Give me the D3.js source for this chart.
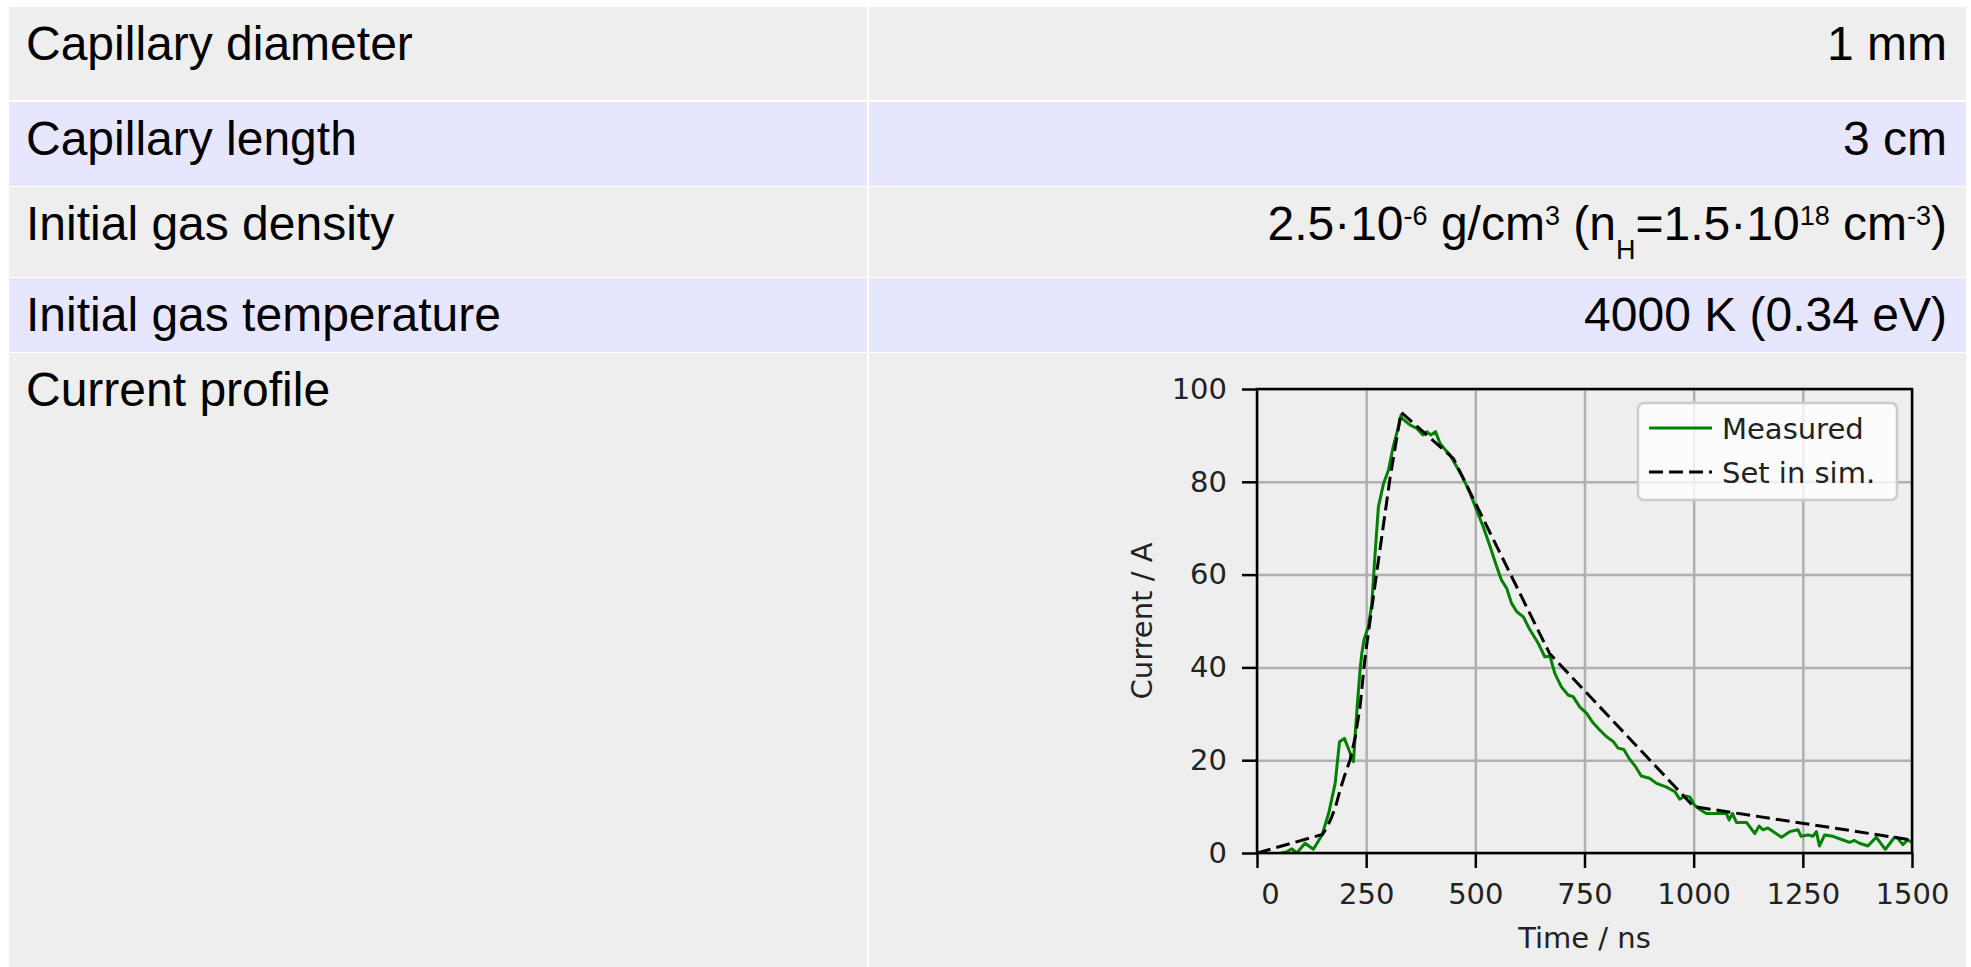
<!DOCTYPE html>
<html>
<head>
<meta charset="utf-8">
<script src="https://cdn.jsdelivr.net/npm/d3@7"></script>
<style>
body { margin: 0; background: #fff; }
</style>
</head>
<body>
<div id="a"></div>
<script>
// table contents
var rowLabels = ["Capillary diameter", "Capillary length", "Initial gas density", "Initial gas temperature", "Current profile"]
// value cells; pieces are [text, kind] where kind is n(ormal), sup or sub
var rowValues = [
	[["1 mm", "n"]],
	[["3 cm", "n"]],
	[["2.5·10", "n"], ["-6", "sup"], [" g/cm", "n"], ["3", "sup"], [" (n", "n"], ["H", "sub"], ["=1.5·10", "n"], ["18", "sup"], [" cm", "n"], ["-3", "sup"], [")", "n"]],
	[["4000 K (0.34 eV)", "n"]],
	[]
]

// current profile
var measuredTime = [55, 69, 80, 91, 110, 129, 149, 164, 179, 189, 200, 209, 221, 225, 230, 236, 240, 245, 255, 263, 270, 278, 290, 301, 312, 324, 330, 332, 351, 366, 380, 389, 398, 409, 419, 431, 442, 457, 472, 488, 503, 518, 534, 549, 560, 572, 583, 595, 610, 625, 644, 659, 671, 682, 697, 713, 724, 739, 755, 770, 785, 800, 816, 827, 840, 852, 867, 880, 899, 915, 938, 957, 968, 980, 991, 1002, 1014, 1029, 1060, 1075, 1081, 1089, 1098, 1121, 1140, 1150, 1159, 1170, 1201, 1220, 1239, 1246, 1262, 1273, 1281, 1288, 1300, 1319, 1342, 1357, 1368, 1380, 1399, 1418, 1439, 1460, 1467, 1479, 1490, 1500]
var measuredCurrent = [0, 0.3, 0.9, 0, 2.1, 0.8, 3.9, 8.5, 15, 24, 24.7, 22.6, 19.7, 25.8, 32.3, 39.4, 43, 45.9, 48.8, 53.8, 63.9, 74.6, 79.7, 82.5, 87.6, 91.9, 94.4, 93.7, 92.2, 91.5, 90.1, 90.8, 90.1, 90.8, 88.3, 86.9, 85.8, 83.3, 80.8, 77.5, 73.9, 70.3, 66, 61.7, 58.8, 57, 53.8, 52, 50.9, 48.1, 45.2, 42.3, 42.4, 38.7, 35.8, 34, 33.7, 31.5, 30.1, 28, 26.5, 25.1, 24, 22.6, 22.3, 20.4, 18.6, 16.6, 16.1, 15, 14.2, 13.2, 11.6, 12.3, 12.1, 10.3, 9.4, 8.5, 8.5, 8.5, 7.1, 8.5, 6.6, 6.6, 4.2, 5.8, 5.0, 5.4, 3.4, 4.6, 5.0, 3.6, 3.9, 3.6, 4.6, 1.5, 3.9, 3.6, 2.8, 2.3, 2.7, 2.1, 1.5, 3.4, 0.8, 3.4, 3.2, 1.8, 2.8, 2.3]
var simTime = [0, 150, 160, 170, 180, 190, 200, 213, 225, 236, 245, 250, 275, 305, 330, 450, 670, 1000, 1500]
var simCurrent = [0, 4, 5.5, 7.5, 10, 13.5, 16.5, 20, 25, 31.5, 40, 44, 61, 81, 95, 85, 43, 10, 2.8]
var xTicks = [0, 250, 500, 750, 1000, 1250, 1500]
var yTicks = [0, 20, 40, 60, 80, 100]
var legendNames = ["Measured", "Set in sim."]

var W = 1971, H = 967
svg = d3.select("#a").append("svg")
	.attr("width", W)
	.attr("height", H)

// ---- table ----
var rowTops = [7, 102, 187, 278, 353]
var rowBottoms = [100, 186, 277, 352, 967]
var rowFill = ["#eeeeee", "#e6e6ff"]
var tableLeft = 9, colSplit = 868, tableRight = 1966
var tableFont = "'Liberation Sans', Arial, sans-serif"

var rows = svg.selectAll("g.row")
	.data(rowLabels)
	.enter()
	.append("g")
	.attr("class", "row")
	.attr("transform", function(d, i){ return "translate(0," + rowTops[i] + ")" })

rows.append("rect")
	.attr("x", tableLeft)
	.attr("width", colSplit - tableLeft - 1)
	.attr("height", function(d, i){ return rowBottoms[i] - rowTops[i] })
	.attr("fill", function(d, i){ return rowFill[i % 2] })
rows.append("rect")
	.attr("x", colSplit + 1)
	.attr("width", tableRight - colSplit - 1)
	.attr("height", function(d, i){ return rowBottoms[i] - rowTops[i] })
	.attr("fill", function(d, i){ return rowFill[i % 2] })

rows.append("text")
	.attr("x", 26)
	.attr("y", 53)
	.style("font-family", tableFont)
	.style("font-size", "48px")
	.attr("fill", "#000")
	.text(function(d){ return d })

var valueText = rows.append("text")
	.attr("x", 1947)
	.attr("y", 53)
	.attr("text-anchor", "end")
	.style("font-family", tableFont)
	.style("font-size", "48px")
	.attr("fill", "#000")

valueText.each(function(d, i){
	var t = d3.select(this)
	rowValues[i].forEach(function(p){
		var s = t.append("tspan").text(p[0])
		if (p[1] == "sup") s.style("font-size", "27px").attr("baseline-shift", "15px")
		if (p[1] == "sub") s.style("font-size", "27px").attr("baseline-shift", "-19px")
	})
})

// ---- chart ----
var x = d3.scaleLinear().domain([0, 1500]).range([1257, 1912])
var y = d3.scaleLinear().domain([0, 100]).range([853, 389])
var chartFont = "'DejaVu Sans', sans-serif"

var clip = svg.append("clipPath").attr("id", "plotclip")
	.append("rect")
	.attr("x", x(0)).attr("y", y(100))
	.attr("width", x(1500) - x(0)).attr("height", y(0) - y(100))

// grid
svg.append("g")
	.attr("transform", "translate(0," + y(0) + ")")
	.call(d3.axisBottom(x).tickValues(xTicks).tickSize(-(y(0) - y(100))).tickFormat(""))
	.call(function(g){ g.select(".domain").remove() })
	.selectAll("line").attr("stroke", "#b0b0b0").attr("stroke-width", 2.5)
svg.append("g")
	.attr("transform", "translate(" + x(0) + ",0)")
	.call(d3.axisLeft(y).tickValues(yTicks).tickSize(-(x(1500) - x(0))).tickFormat(""))
	.call(function(g){ g.select(".domain").remove() })
	.selectAll("line").attr("stroke", "#b0b0b0").attr("stroke-width", 2.5)

var line = d3.line()
	.x(function(d){ return x(d[0]) })
	.y(function(d){ return y(d[1]) })

var measured = d3.zip(measuredTime, measuredCurrent)
var sim = d3.zip(simTime, simCurrent)

svg.append("path")
	.datum(measured)
	.attr("clip-path", "url(#plotclip)")
	.attr("d", line)
	.attr("fill", "none")
	.attr("stroke", "#008000")
	.attr("stroke-width", 3)
	.attr("stroke-linejoin", "round")

svg.append("path")
	.datum(sim)
	.attr("clip-path", "url(#plotclip)")
	.attr("d", line)
	.attr("fill", "none")
	.attr("stroke", "#000")
	.attr("stroke-width", 3)
	.attr("stroke-dasharray", "14,6")

// axes
var xAxis = svg.append("g")
	.attr("transform", "translate(0," + y(0) + ")")
	.call(d3.axisBottom(x).tickValues(xTicks).tickFormat(d3.format("d")).tickSize(15).tickSizeOuter(0).tickPadding(15))
xAxis.select(".domain").remove()
xAxis.selectAll("line").attr("stroke", "#000").attr("stroke-width", 2.5)
xAxis.selectAll("text")
	.style("font-family", chartFont).style("font-size", "29px").attr("fill", "#222")
	.attr("dx", function(d){ return d == 0 ? 13 : 0 })

var yAxis = svg.append("g")
	.attr("transform", "translate(" + x(0) + ",0)")
	.call(d3.axisLeft(y).tickValues(yTicks).tickFormat(d3.format("d")).tickSize(15).tickSizeOuter(0).tickPadding(15))
yAxis.select(".domain").remove()
yAxis.selectAll("line").attr("stroke", "#000").attr("stroke-width", 2.5)
yAxis.selectAll("text")
	.style("font-family", chartFont).style("font-size", "29px").attr("fill", "#222")

// spines
svg.append("rect")
	.attr("x", x(0)).attr("y", y(100))
	.attr("width", x(1500) - x(0)).attr("height", y(0) - y(100))
	.attr("fill", "none").attr("stroke", "#000").attr("stroke-width", 2.5)

// axis labels
svg.append("text")
	.attr("x", (x(0) + x(1500)) / 2)
	.attr("y", 948)
	.attr("text-anchor", "middle")
	.style("font-family", chartFont).style("font-size", "29px").attr("fill", "#222")
	.text("Time / ns")
svg.append("text")
	.attr("transform", "translate(1152," + (y(0) + y(100)) / 2 + ") rotate(-90)")
	.attr("text-anchor", "middle")
	.style("font-family", chartFont).style("font-size", "29px").attr("fill", "#222")
	.text("Current / A")

// legend
var lg = svg.append("g").attr("transform", "translate(1638,403)")
lg.append("rect")
	.attr("width", 259).attr("height", 97).attr("rx", 6)
	.attr("fill", "#fff").attr("fill-opacity", 0.8)
	.attr("stroke", "#cccccc").attr("stroke-width", 2.5)
var entries = lg.selectAll("g.entry")
	.data(legendNames)
	.enter()
	.append("g")
	.attr("transform", function(d, i){ return "translate(0," + (25 + i * 44) + ")" })
entries.append("line")
	.attr("x1", 11).attr("x2", 74)
	.attr("stroke", function(d, i){ return i == 0 ? "#008000" : "#000" })
	.attr("stroke-width", 3)
	.attr("stroke-dasharray", function(d, i){ return i == 0 ? null : "14,6" })
entries.append("text")
	.attr("x", 84).attr("y", 11)
	.style("font-family", chartFont).style("font-size", "29px").attr("fill", "#222")
	.text(function(d){ return d })
</script>
</body>
</html>
